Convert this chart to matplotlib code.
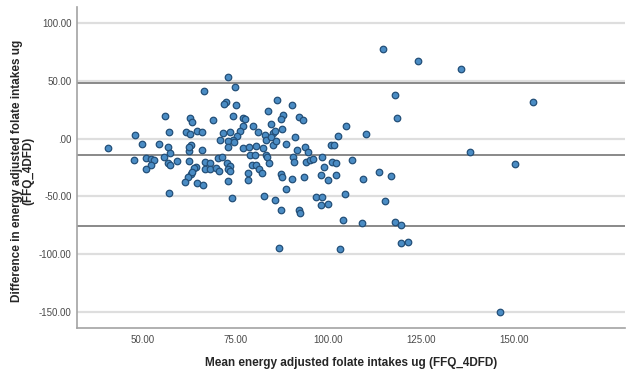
import numpy as np
import matplotlib
matplotlib.use("Agg")
import matplotlib.pyplot as plt

# Bland-Altman data: mean of the two methods vs difference (FFQ - 4DFD)
mean_intake = [
    72.8, 74.8, 66.4, 72.3, 71.9, 75.1, 55.9, 62.7, 63.3, 68.9,
    74.3, 77.0, 77.5, 76.9, 79.8, 47.9, 56.9, 61.5, 62.6, 64.6,
    65.9, 71.6, 73.4, 76.2, 75.3, 74.2, 73.0, 70.9, 81.0, 40.6,
    49.6, 54.3, 56.7, 57.4, 63.0, 62.3, 65.8, 73.0, 74.6, 77.1,
    78.6, 80.4, 47.6, 50.7, 52.2, 53.0, 55.7, 59.2, 62.3, 52.2,
    50.9, 56.8, 57.3, 66.7, 68.1, 70.1, 71.2, 72.6, 73.5, 78.8,
    80.2, 79.5, 80.6, 64.3, 63.7, 66.8, 68.2, 69.7, 70.4, 62.9,
    62.2, 73.0, 78.4, 78.4, 61.4, 64.6, 66.1, 72.9, 57.0, 74.0,
    62.3, 63.2, 117.9, 118.5, 86.2, 90.2, 83.8, 87.8, 87.1, 92.1,
    93.3, 84.4, 82.8, 83.3, 85.0, 85.7, 87.4, 84.4, 85.0, 85.8,
    91.0, 88.7, 82.4, 91.5, 93.7, 94.5, 102.7, 104.7, 110.1, 100.6,
    101.6, 83.3, 83.5, 90.5, 90.8, 94.1, 95.0, 95.9, 98.2, 100.9,
    102.0, 106.3, 81.3, 82.0, 83.9, 87.1, 87.5, 90.3, 93.5, 98.7,
    98.1, 99.8, 102.2, 88.5, 109.3, 113.6, 116.8, 82.6, 85.7, 87.2,
    92.0, 92.3, 96.7, 98.2, 98.1, 99.8, 104.6, 115.3, 104.0, 109.1,
    117.9, 119.7, 124.2, 135.9, 155.2, 138.2, 150.3, 119.7, 121.4, 146.4,
    114.8, 86.7, 103.2, 73.6,
]
diff_intake = [
    53.0, 44.4, 41.4, 31.4, 29.7, 29.3, 19.5, 18.1, 14.4, 16.3,
    19.3, 17.8, 17.2, 10.9, 10.9, 3.4, 5.7, 5.4, 3.7, 6.6,
    5.7, 4.8, 6.0, 6.3, 2.0, -1.2, -2.3, -1.2, 6.0, -8.4,
    -4.7, -4.7, -7.5, -12.2, -5.3, -10.5, -9.6, -7.5, -2.9, -8.1,
    -7.5, -6.4, -18.5, -16.5, -17.9, -18.5, -15.7, -19.1, -19.1, -23.1,
    -26.6, -20.8, -23.1, -20.2, -21.4, -16.8, -16.2, -21.4, -23.4, -13.9,
    -13.9, -23.1, -22.6, -24.3, -25.7, -26.6, -26.6, -25.4, -28.3, -30.9,
    -33.5, -26.3, -30.0, -35.8, -37.5, -38.1, -40.4, -36.9, -46.8, -51.4,
    -7.3, -28.9, 38.0, 17.8, 33.6, 28.8, 23.6, 20.2, 16.7, 18.4,
    16.1, 12.6, 2.9, -1.2, 5.1, 6.8, 8.3, 1.6, -5.8, -1.8,
    1.4, -4.7, -8.4, -9.6, -7.0, -11.3, 2.2, 10.9, 4.0, -5.3,
    -5.3, -14.2, -15.7, -15.7, -20.2, -20.2, -18.5, -17.4, -15.7, -20.5,
    -21.4, -18.3, -26.0, -29.5, -20.8, -30.9, -33.5, -34.9, -33.2, -24.8,
    -31.5, -36.1, -31.5, -43.3, -34.9, -29.2, -32.1, -49.4, -53.4, -61.5,
    -61.5, -64.6, -50.3, -50.5, -57.7, -56.8, -47.9, -53.7, -70.4, -72.7,
    -72.4, -75.0, 66.9, 59.9, 31.9, -11.9, -22.0, -90.6, -89.2, -150.3,
    77.2, -94.6, -95.5, -28.0,
]

# mean difference and limits of agreement
mean_diff = -13.9
upper_loa = 47.8
lower_loa = -75.6

y_ticks = [100, 50, 0, -50, -100, -150]
y_tick_labels = ["100.00", "50.00", ".00", "-50.00", "-100.00", "-150.00"]
x_ticks = [50, 75, 100, 125, 150]
x_tick_labels = ["50.00", "75.00", "100.00", "125.00", "150.00"]

plt.rcParams['font.family'] = ['Liberation Sans', 'DejaVu Sans']

fig = plt.figure(figsize=(6.35, 3.78), dpi=100)
ax = fig.add_axes([0.1213, 0.1323, 0.8627, 0.8492])

ax.set_xlim(32.2, 180.0)
ax.set_ylim(-163.8, 113.8)

# light horizontal grid
ax.set_yticks(y_ticks)
ax.set_yticklabels(y_tick_labels)
ax.set_xticks(x_ticks)
ax.set_xticklabels(x_tick_labels)
ax.yaxis.grid(True, color='#dedede', linewidth=1.6)
ax.xaxis.grid(False)
ax.set_axisbelow(True)

# reference lines
for yv in [upper_loa, mean_diff, lower_loa]:
    ax.axhline(yv, color='#6a6a6a', linewidth=1.1, zorder=2)

ax.scatter(mean_intake, diff_intake, s=22, facecolor='#4a8cc4',
           edgecolor='#234f78', linewidth=0.9, zorder=3)

for side in ['top', 'right']:
    ax.spines[side].set_visible(False)
for side in ['left', 'bottom']:
    ax.spines[side].set_color('#a3a3a3')
    ax.spines[side].set_linewidth(1.2)

ax.tick_params(axis='both', length=0, labelsize=7, labelcolor='#4a4a4a')
ax.tick_params(axis='y', pad=4)
ax.tick_params(axis='x', pad=5)

ax.set_xlabel("Mean energy adjusted folate intakes ug (FFQ_4DFD)",
              fontsize=8.5, fontweight='bold', color='#262626', labelpad=9)
fig.text(0.036, 1 - 171 / 378,
         "Difference in energy adjusted folate intakes ug\n(FFQ_4DFD)",
         rotation=90, ha='center', va='center', multialignment='center',
         fontsize=8.5, fontweight='bold', color='#262626', linespacing=0.95)

fig.savefig("out.png", dpi=100)
